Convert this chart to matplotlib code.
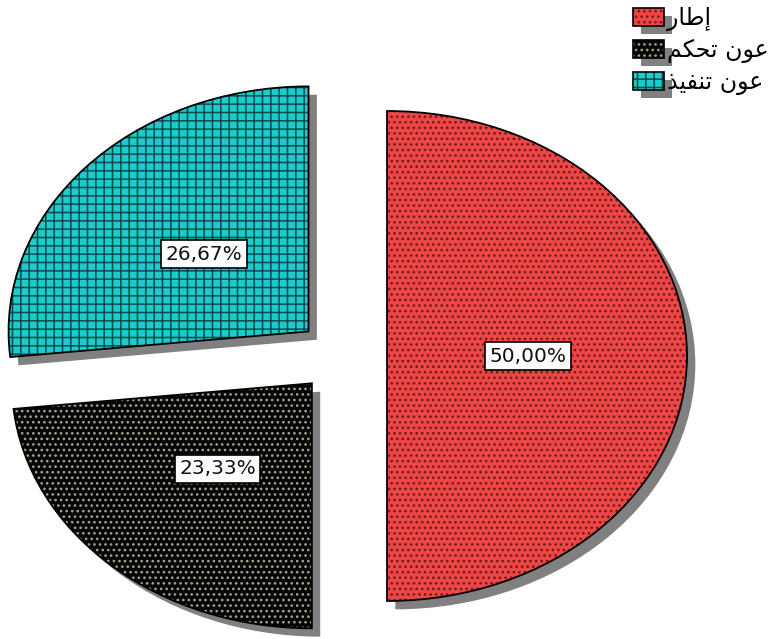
import matplotlib
matplotlib.use("Agg")
import matplotlib.pyplot as plt
from matplotlib.patches import Patch
import matplotlib.patheffects as pe

# ---- data ----
categories = ["إطار", "عون تحكم", "عون تنفيذ"]
counts = [15, 7, 8]  # 50,00% / 23,33% / 26,67%
face_colors = ["#ec4646", "#050505", "#1ccccc"]
hatch_colors = ["#701a1a", "#a4a488", "#0a4a4e"]
hatches = ["...", "...", "++"]

# ---- simple Arabic contextual shaping (presentation forms) ----
FORMS = {
    "ا": ("\uFE8D", "\uFE8E", None, None),
    "إ": ("\uFE87", "\uFE88", None, None),
    "ر": ("\uFEAD", "\uFEAE", None, None),
    "و": ("\uFEED", "\uFEEE", None, None),
    "ذ": ("\uFEAB", "\uFEAC", None, None),
    "ط": ("\uFEC1", "\uFEC2", "\uFEC3", "\uFEC4"),
    "ع": ("\uFEC9", "\uFECA", "\uFECB", "\uFECC"),
    "ن": ("\uFEE5", "\uFEE6", "\uFEE7", "\uFEE8"),
    "ت": ("\uFE95", "\uFE96", "\uFE97", "\uFE98"),
    "ح": ("\uFEA1", "\uFEA2", "\uFEA3", "\uFEA4"),
    "ك": ("\uFED9", "\uFEDA", "\uFEDB", "\uFEDC"),
    "م": ("\uFEE1", "\uFEE2", "\uFEE3", "\uFEE4"),
    "ف": ("\uFED1", "\uFED2", "\uFED3", "\uFED4"),
    "ي": ("\uFEF1", "\uFEF2", "\uFEF3", "\uFEF4"),
}


def shape(text):
    out = []
    n = len(text)
    for i, c in enumerate(text):
        if c not in FORMS:
            out.append(c)
            continue
        iso, fin, ini, med = FORMS[c]
        prev_join = i > 0 and text[i - 1] in FORMS and FORMS[text[i - 1]][2] is not None
        next_join = ini is not None and i < n - 1 and text[i + 1] in FORMS
        if prev_join and next_join:
            out.append(med)
        elif prev_join:
            out.append(fin)
        elif next_join:
            out.append(ini)
        else:
            out.append(iso)
    return "".join(out)[::-1]


plt.rcParams["font.family"] = ["DejaVu Sans"]
plt.rcParams["hatch.linewidth"] = 1.1

fig = plt.figure(figsize=(7.72, 6.39), dpi=100)
ax = fig.add_axes([0, 0, 1, 1])

explode = [0.15] * len(counts)


def shadow():
    return [pe.SimplePatchShadow(offset=(6, -6), shadow_rgbFace="#808080",
                                 alpha=1.0, hatch=None), pe.Normal()]


# hatched fill layer
wedges, _texts = ax.pie(counts, explode=explode, startangle=90, counterclock=False,
                        colors=face_colors, wedgeprops=dict(linewidth=0))
for w, hc, h in zip(wedges, hatch_colors, hatches):
    w.set_edgecolor(hc)
    w.set_hatch(h)
    w.set_linewidth(0)
    w.set_path_effects(shadow())

# outline layer with percentage labels
outl, _t2, autotexts = ax.pie(
    counts, explode=explode, startangle=90, counterclock=False,
    autopct=lambda p: f"{p:.2f}%".replace(".", ","), pctdistance=0.47,
    wedgeprops=dict(facecolor="none", edgecolor="black", linewidth=1.3),
    textprops=dict(fontsize=14.5, color="#111111"))
for t in autotexts:
    t.set_bbox(dict(boxstyle="square,pad=0.22", facecolor="white",
                    edgecolor="black", linewidth=1.2))
    t.set_zorder(5)

ax.set_aspect("auto")
ax.set_xlim(-342 / 300, (772 - 342) / 300)
ax.set_ylim(-283 / 245, (639 - 283) / 245)
ax.axis("off")

# legend
handles = []
for fc, hc, h in zip(face_colors, hatch_colors, hatches):
    p1 = Patch(facecolor=fc, edgecolor=hc, hatch=h, linewidth=0, path_effects=shadow())
    p2 = Patch(facecolor="none", edgecolor="black", linewidth=1.2)
    handles.append((p1, p2))

fig.legend(handles, [shape(c) for c in categories], loc="upper left",
           bbox_to_anchor=(633 / 772, 1 - 6 / 639), bbox_transform=fig.transFigure,
           frameon=False, fontsize=17, handlelength=1.3, handleheight=0.78,
           handletextpad=0.15, labelspacing=0.3, borderpad=0, borderaxespad=0)

fig.savefig("out.png", dpi=100)
